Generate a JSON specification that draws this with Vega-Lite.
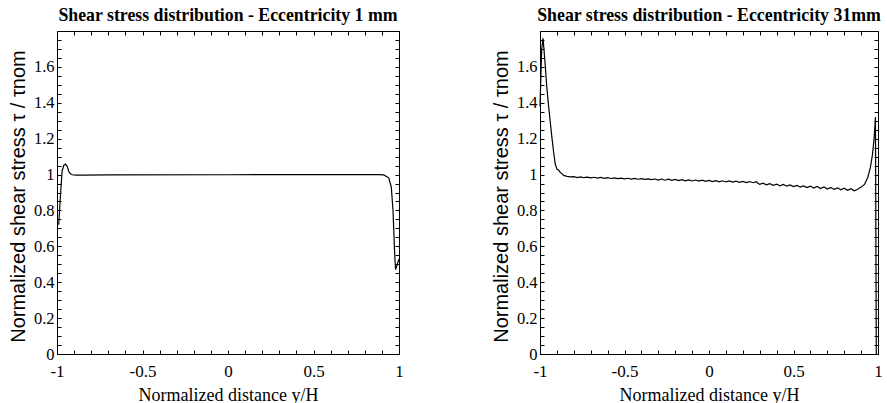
{
  "$schema": "https://vega.github.io/schema/vega-lite/v6.json",
  "padding": {"left": 8, "top": 6, "right": 4, "bottom": 2},
  "bounds": "flush",
  "spacing": 141,
  "datasets": {
    "left": [
      {"x": -0.99, "y": 0.72}, {"x": -0.98, "y": 0.88}, {"x": -0.97, "y": 1.02}, {"x": -0.96, "y": 1.052},
      {"x": -0.95, "y": 1.058}, {"x": -0.94, "y": 1.045}, {"x": -0.93, "y": 1.015}, {"x": -0.92, "y": 1.003},
      {"x": -0.91, "y": 0.999}, {"x": -0.89, "y": 0.997}, {"x": -0.85, "y": 0.997}, {"x": -0.7, "y": 0.998},
      {"x": 0, "y": 0.999}, {"x": 0.8, "y": 1.0}, {"x": 0.88, "y": 1.0}, {"x": 0.91, "y": 0.998},
      {"x": 0.94, "y": 0.982}, {"x": 0.955, "y": 0.93}, {"x": 0.965, "y": 0.8}, {"x": 0.975, "y": 0.55},
      {"x": 0.98, "y": 0.47}, {"x": 0.99, "y": 0.5}, {"x": 1.0, "y": 0.53}
    ],
    "right": [
      {"x": -1.0, "y": 1.38}, {"x": -0.99, "y": 1.7}, {"x": -0.982, "y": 1.76}, {"x": -0.97, "y": 1.62},
      {"x": -0.96, "y": 1.49}, {"x": -0.95, "y": 1.39}, {"x": -0.94, "y": 1.3}, {"x": -0.93, "y": 1.21},
      {"x": -0.92, "y": 1.13}, {"x": -0.91, "y": 1.06}, {"x": -0.9, "y": 1.03}, {"x": -0.89, "y": 1.025},
      {"x": -0.88, "y": 1.012}, {"x": -0.87, "y": 1.005}, {"x": -0.86, "y": 0.995}, {"x": -0.84, "y": 0.99},
      {"x": -0.82, "y": 0.987},
      {"x": -0.8, "y": 0.988}, {"x": -0.78, "y": 0.9835}, {"x": -0.76, "y": 0.9869}, {"x": -0.74, "y": 0.9824},
      {"x": -0.72, "y": 0.9858}, {"x": -0.7, "y": 0.9813}, {"x": -0.68, "y": 0.9848}, {"x": -0.66, "y": 0.9802},
      {"x": -0.64, "y": 0.9837}, {"x": -0.62, "y": 0.9792}, {"x": -0.6, "y": 0.9826}, {"x": -0.58, "y": 0.9781},
      {"x": -0.56, "y": 0.9815}, {"x": -0.54, "y": 0.977}, {"x": -0.52, "y": 0.9805}, {"x": -0.5, "y": 0.9759},
      {"x": -0.48, "y": 0.9794}, {"x": -0.46, "y": 0.9748}, {"x": -0.44, "y": 0.9783}, {"x": -0.42, "y": 0.9738},
      {"x": -0.4, "y": 0.9772}, {"x": -0.38, "y": 0.9727}, {"x": -0.36, "y": 0.9762}, {"x": -0.34, "y": 0.9716},
      {"x": -0.32, "y": 0.9751}, {"x": -0.3, "y": 0.9695}, {"x": -0.28, "y": 0.975}, {"x": -0.26, "y": 0.9685},
      {"x": -0.24, "y": 0.9739}, {"x": -0.22, "y": 0.9674}, {"x": -0.2, "y": 0.9729}, {"x": -0.18, "y": 0.9663},
      {"x": -0.16, "y": 0.9718}, {"x": -0.14, "y": 0.9652}, {"x": -0.12, "y": 0.9707}, {"x": -0.1, "y": 0.9642},
      {"x": -0.08, "y": 0.9696}, {"x": -0.06, "y": 0.9631}, {"x": -0.04, "y": 0.9685}, {"x": -0.02, "y": 0.962},
      {"x": 0.0, "y": 0.9675}, {"x": 0.02, "y": 0.9609}, {"x": 0.04, "y": 0.9664}, {"x": 0.06, "y": 0.9599},
      {"x": 0.08, "y": 0.9653}, {"x": 0.1, "y": 0.9588}, {"x": 0.12, "y": 0.9642}, {"x": 0.14, "y": 0.9577},
      {"x": 0.16, "y": 0.9632}, {"x": 0.18, "y": 0.9566}, {"x": 0.2, "y": 0.9621}, {"x": 0.22, "y": 0.9556},
      {"x": 0.24, "y": 0.961}, {"x": 0.26, "y": 0.9545}, {"x": 0.28, "y": 0.9599}, {"x": 0.29, "y": 0.952},
      {"x": 0.3, "y": 0.945}, {"x": 0.32, "y": 0.9518}, {"x": 0.34, "y": 0.9426}, {"x": 0.36, "y": 0.9493},
      {"x": 0.38, "y": 0.9401}, {"x": 0.4, "y": 0.9469}, {"x": 0.42, "y": 0.9377}, {"x": 0.44, "y": 0.9445},
      {"x": 0.46, "y": 0.9352}, {"x": 0.48, "y": 0.942}, {"x": 0.5, "y": 0.9328}, {"x": 0.52, "y": 0.9396},
      {"x": 0.54, "y": 0.9304}, {"x": 0.56, "y": 0.9371}, {"x": 0.58, "y": 0.9279}, {"x": 0.6, "y": 0.9357},
      {"x": 0.62, "y": 0.9245}, {"x": 0.64, "y": 0.9333}, {"x": 0.66, "y": 0.922}, {"x": 0.68, "y": 0.9308},
      {"x": 0.7, "y": 0.9196}, {"x": 0.72, "y": 0.9284}, {"x": 0.74, "y": 0.9172}, {"x": 0.76, "y": 0.9259},
      {"x": 0.78, "y": 0.9147}, {"x": 0.8, "y": 0.9235}, {"x": 0.82, "y": 0.9123}, {"x": 0.84, "y": 0.9211},
      {"x": 0.86, "y": 0.9098}, {"x": 0.88, "y": 0.918}, {"x": 0.9, "y": 0.93}, {"x": 0.92, "y": 0.945},
      {"x": 0.94, "y": 0.985}, {"x": 0.955, "y": 1.04}, {"x": 0.967, "y": 1.11}, {"x": 0.977, "y": 1.2},
      {"x": 0.985, "y": 1.32}, {"x": 0.99, "y": 0.0}
    ]
  },
  "hconcat": [
    {
      "width": 342, "height": 323,
      "title": {"text": "Shear stress distribution - Eccentricity 1 mm", "font": "Liberation Serif", "fontSize": 17.8, "fontWeight": "bold", "color": "black", "offset": 6},
      "data": {"name": "left"},
      "layer": [
        {
          "mark": {"type": "line", "color": "black", "strokeWidth": 1.2},
          "encoding": {
            "x": {"field": "x", "type": "quantitative", "scale": {"domain": [-1, 1], "nice": false, "zero": false},
              "axis": {"orient": "bottom", "title": "Normalized distance y/H", "titleFont": "Liberation Serif", "titleFontSize": 18, "titleFontWeight": "normal", "titleColor": "black", "titlePadding": 7,
                "labelFont": "Liberation Serif", "labelFontSize": 17, "labelColor": "black", "labelPadding": 13, "labelOverlap": false, "labelFlush": false, "labelBound": false,
                "grid": false, "domainColor": "black", "domainWidth": 1, "tickColor": "black", "tickWidth": 1, "tickSize": -4,
                "values": [-1, -0.9, -0.8, -0.7, -0.6, -0.5, -0.4, -0.3, -0.2, -0.1, 0, 0.1, 0.2, 0.3, 0.4, 0.5, 0.6, 0.7, 0.8, 0.9, 1],
                "labelExpr": "indexof(['-1','-0.5','0','0.5','1'], '' + datum.value) >= 0 ? '' + datum.value : ''"}},
            "y": {"field": "y", "type": "quantitative", "scale": {"domain": [0, 1.8], "nice": false},
              "axis": {"orient": "left", "title": "Normalized shear stress τ / τnom", "titleFont": "Liberation Sans", "titleFontSize": 20, "titleFontWeight": "normal", "titleColor": "black", "titlePadding": 5, "titleY": 165,
                "labelFont": "Liberation Serif", "labelFontSize": 16.5, "labelColor": "black", "labelPadding": 7, "labelOverlap": false, "labelFlush": false, "labelBound": false,
                "grid": false, "domainColor": "black", "domainWidth": 1, "tickColor": "black", "tickWidth": 1, "tickSize": -4,
                "values": [0, 0.05, 0.1, 0.15, 0.2, 0.25, 0.3, 0.35, 0.4, 0.45, 0.5, 0.55, 0.6, 0.65, 0.7, 0.75, 0.8, 0.85, 0.9, 0.95, 1, 1.05, 1.1, 1.15, 1.2, 1.25, 1.3, 1.35, 1.4, 1.45, 1.5, 1.55, 1.6, 1.65, 1.7, 1.75],
                "labelExpr": "indexof(['0','0.2','0.4','0.6','0.8','1','1.2','1.4','1.6'], '' + datum.value) >= 0 ? '' + datum.value : ''"}}
          }
        },
        {
          "mark": {"type": "line", "color": "black", "strokeWidth": 1.2, "opacity": 0},
          "encoding": {
            "x": {"field": "x", "type": "quantitative",
              "axis": {"orient": "top", "title": null, "labels": false, "grid": false, "domainColor": "black", "domainWidth": 1, "tickColor": "black", "tickWidth": 1, "tickSize": -4,
                "values": [-1, -0.9, -0.8, -0.7, -0.6, -0.5, -0.4, -0.3, -0.2, -0.1, 0, 0.1, 0.2, 0.3, 0.4, 0.5, 0.6, 0.7, 0.8, 0.9, 1]}},
            "y": {"field": "y", "type": "quantitative",
              "axis": {"orient": "right", "title": null, "labels": false, "grid": false, "domainColor": "black", "domainWidth": 1, "tickColor": "black", "tickWidth": 1, "tickSize": -4,
                "values": [0, 0.05, 0.1, 0.15, 0.2, 0.25, 0.3, 0.35, 0.4, 0.45, 0.5, 0.55, 0.6, 0.65, 0.7, 0.75, 0.8, 0.85, 0.9, 0.95, 1, 1.05, 1.1, 1.15, 1.2, 1.25, 1.3, 1.35, 1.4, 1.45, 1.5, 1.55, 1.6, 1.65, 1.7, 1.75, 1.8]}}
          }
        }
      ],
      "resolve": {"axis": {"x": "independent", "y": "independent"}}
    },
    {
      "width": 338, "height": 323,
      "title": {"text": "Shear stress distribution - Eccentricity 31mm", "font": "Liberation Serif", "fontSize": 17.8, "fontWeight": "bold", "color": "black", "offset": 6},
      "data": {"name": "right"},
      "layer": [
        {
          "mark": {"type": "line", "color": "black", "strokeWidth": 1.2},
          "encoding": {
            "x": {"field": "x", "type": "quantitative", "scale": {"domain": [-1, 1], "nice": false, "zero": false},
              "axis": {"orient": "bottom", "title": "Normalized distance y/H", "titleFont": "Liberation Serif", "titleFontSize": 18, "titleFontWeight": "normal", "titleColor": "black", "titlePadding": 7,
                "labelFont": "Liberation Serif", "labelFontSize": 17, "labelColor": "black", "labelPadding": 13, "labelOverlap": false, "labelFlush": false, "labelBound": false,
                "grid": false, "domainColor": "black", "domainWidth": 1, "tickColor": "black", "tickWidth": 1, "tickSize": -4,
                "values": [-1, -0.9, -0.8, -0.7, -0.6, -0.5, -0.4, -0.3, -0.2, -0.1, 0, 0.1, 0.2, 0.3, 0.4, 0.5, 0.6, 0.7, 0.8, 0.9, 1],
                "labelExpr": "indexof(['-1','-0.5','0','0.5','1'], '' + datum.value) >= 0 ? '' + datum.value : ''"}},
            "y": {"field": "y", "type": "quantitative", "scale": {"domain": [0, 1.8], "nice": false},
              "axis": {"orient": "left", "title": "Normalized shear stress τ / τnom", "titleFont": "Liberation Sans", "titleFontSize": 20, "titleFontWeight": "normal", "titleColor": "black", "titlePadding": 5, "titleY": 165,
                "labelFont": "Liberation Serif", "labelFontSize": 16.5, "labelColor": "black", "labelPadding": 7, "labelOverlap": false, "labelFlush": false, "labelBound": false,
                "grid": false, "domainColor": "black", "domainWidth": 1, "tickColor": "black", "tickWidth": 1, "tickSize": -4,
                "values": [0, 0.05, 0.1, 0.15, 0.2, 0.25, 0.3, 0.35, 0.4, 0.45, 0.5, 0.55, 0.6, 0.65, 0.7, 0.75, 0.8, 0.85, 0.9, 0.95, 1, 1.05, 1.1, 1.15, 1.2, 1.25, 1.3, 1.35, 1.4, 1.45, 1.5, 1.55, 1.6, 1.65, 1.7, 1.75],
                "labelExpr": "indexof(['0','0.2','0.4','0.6','0.8','1','1.2','1.4','1.6'], '' + datum.value) >= 0 ? '' + datum.value : ''"}}
          }
        },
        {
          "mark": {"type": "line", "color": "black", "strokeWidth": 1.2, "opacity": 0},
          "encoding": {
            "x": {"field": "x", "type": "quantitative",
              "axis": {"orient": "top", "title": null, "labels": false, "grid": false, "domainColor": "black", "domainWidth": 1, "tickColor": "black", "tickWidth": 1, "tickSize": -4,
                "values": [-1, -0.9, -0.8, -0.7, -0.6, -0.5, -0.4, -0.3, -0.2, -0.1, 0, 0.1, 0.2, 0.3, 0.4, 0.5, 0.6, 0.7, 0.8, 0.9, 1]}},
            "y": {"field": "y", "type": "quantitative",
              "axis": {"orient": "right", "title": null, "labels": false, "grid": false, "domainColor": "black", "domainWidth": 1, "tickColor": "black", "tickWidth": 1, "tickSize": -4,
                "values": [0, 0.05, 0.1, 0.15, 0.2, 0.25, 0.3, 0.35, 0.4, 0.45, 0.5, 0.55, 0.6, 0.65, 0.7, 0.75, 0.8, 0.85, 0.9, 0.95, 1, 1.05, 1.1, 1.15, 1.2, 1.25, 1.3, 1.35, 1.4, 1.45, 1.5, 1.55, 1.6, 1.65, 1.7, 1.75, 1.8]}}
          }
        }
      ],
      "resolve": {"axis": {"x": "independent", "y": "independent"}}
    }
  ],
  "config": {
    "background": "white",
    "view": {"stroke": null}
  }
}
